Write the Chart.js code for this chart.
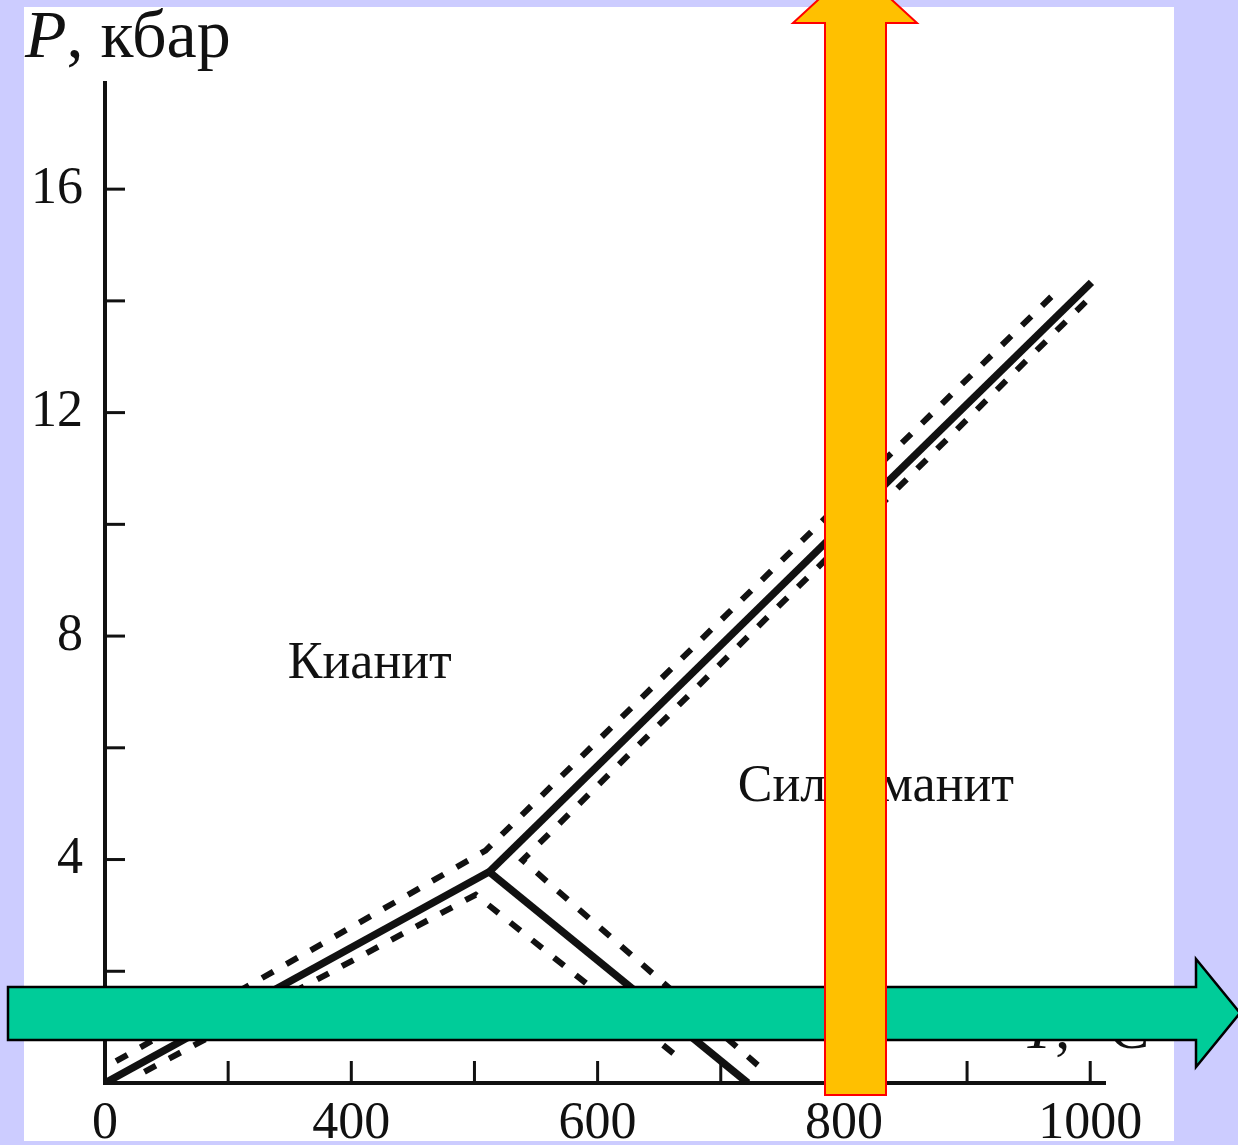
<!DOCTYPE html>
<html>
<head>
<meta charset="utf-8">
<script src="https://cdn.jsdelivr.net/npm/chart.js@4.4.1/dist/chart.umd.min.js"></script>
<style>
  body { margin: 0; background: #ccccff; overflow: hidden; }
  #paper { position: absolute; left: 24px; top: 7px; width: 1150px; height: 1134px; background: #fff; }
  #wrap { position: absolute; left: 0; top: 0; width: 1238px; height: 1145px; }
  #arrows { position: absolute; left: 0; top: 0; pointer-events: none; }
</style>
</head>
<body>
<div id="paper"></div>
<div id="wrap"><canvas id="diagram"></canvas></div>
<svg id="arrows" width="1238" height="1145">
  <polygon points="8,987 1196,987 1196,959 1240,1013 1196,1067 1196,1040 8,1040"
           fill="#00cc99" stroke="#000" stroke-width="2.5"/>
  <polygon points="825,1095 825,23 793,23 855,-34 917,23 886,23 886,1095"
           fill="#ffc000" stroke="#ff0000" stroke-width="2"/>
</svg>
<script>
// phase boundaries (T in °C, P in kbar)
var kyAndT = [200, 512];
var kyAndP = [0, 3.78];
var kySilT = [512, 1001];
var kySilP = [3.78, 14.33];
var andSilT = [512, 722];
var andSilP = [3.78, 0];

// uncertainty bands (dashed)
var errUpperT = [209, 509, 977];
var errUpperP = [0.39, 4.16, 14.26];
var errLowerT = [232, 501, 670];
var errLowerP = [0.2, 3.37, 0.38];
var errRightT = [730, 539, 998];
var errRightP = [0.32, 3.99, 14.02];

// axis ticks
var xMarks = [300, 400, 500, 600, 700, 800, 900, 1000];
var yMarks = [2, 4, 6, 8, 10, 12, 14, 16];
var xLabelValues = [200, 400, 600, 800, 1000];
var xLabelTexts = ['0', '400', '600', '800', '1000'];
var yLabelValues = [4, 8, 12, 16];

// region names
var regionNames = ['Кианит', 'Силлиманит'];
var regionT = [415, 826];
var regionP = [7.5, 5.3];

function pts(t, p) {
    return t.map(function (v, i) { return { x: v, y: p[i] }; });
}

function solid(t, p) {
    return { data: pts(t, p), borderColor: '#111', borderWidth: 7.5, pointRadius: 0, showLine: true, fill: false };
}

function dashed(t, p) {
    return { data: pts(t, p), borderColor: '#111', borderWidth: 6, borderDash: [13, 15], pointRadius: 0, showLine: true, fill: false };
}

var serif = '"Liberation Serif", "Times New Roman", serif';

var extras = {
    id: 'extras',
    afterDraw: function (chart) {
        var ctx = chart.ctx, x = chart.scales.x, y = chart.scales.y, area = chart.chartArea;
        ctx.save();
        // inward tick marks
        ctx.strokeStyle = '#111';
        ctx.lineWidth = 3;
        xMarks.forEach(function (v) {
            var px = x.getPixelForValue(v);
            ctx.beginPath();
            ctx.moveTo(px, area.bottom);
            ctx.lineTo(px, area.bottom - 22);
            ctx.stroke();
        });
        yMarks.forEach(function (v) {
            var py = y.getPixelForValue(v);
            ctx.beginPath();
            ctx.moveTo(area.left, py);
            ctx.lineTo(area.left + 20, py);
            ctx.stroke();
        });

        // region names
        ctx.fillStyle = '#111';
        ctx.font = '52px ' + serif;
        ctx.textAlign = 'center';
        ctx.textBaseline = 'middle';
        regionNames.forEach(function (n, i) {
            ctx.fillText(n, x.getPixelForValue(regionT[i]), y.getPixelForValue(regionP[i]));
        });

        // axis titles
        ctx.textAlign = 'left';
        ctx.textBaseline = 'alphabetic';
        var tx = area.left - 80, ty = area.top - 26;
        ctx.font = 'italic 68px ' + serif;
        ctx.fillText('P', tx, ty);
        tx += ctx.measureText('P').width;
        ctx.font = '68px ' + serif;
        ctx.fillText(', кбар', tx, ty);

        tx = area.right - 83; ty = area.bottom - 35;
        ctx.font = 'italic 60px ' + serif;
        ctx.fillText('T', tx, ty);
        tx += ctx.measureText('T').width;
        ctx.font = '60px ' + serif;
        ctx.fillText(', °C', tx, ty);
        ctx.restore();
    }
};

var ctx = document.getElementById('diagram').getContext('2d');
var chart = new Chart(ctx, {
    type: 'scatter',
    data: {
        datasets: [
            solid(kyAndT, kyAndP),
            solid(kySilT, kySilP),
            solid(andSilT, andSilP),
            dashed(errUpperT, errUpperP),
            dashed(errLowerT, errLowerP),
            dashed(errRightT, errRightP)
        ]
    },
    options: {
        responsive: true,
        maintainAspectRatio: false,
        animation: false,
        layout: { padding: { left: 0, top: 83, right: 133, bottom: 0 } },
        plugins: {
            legend: { display: false },
            tooltip: { enabled: false }
        },
        scales: {
            x: {
                type: 'linear',
                min: 200,
                max: 1012,
                grid: { display: false, drawTicks: false },
                border: { display: true, color: '#111', width: 4 },
                afterBuildTicks: function (s) {
                    s.ticks = xLabelValues.map(function (v) { return { value: v }; });
                },
                afterFit: function (s) { s.height = 62; },
                ticks: {
                    padding: 10,
                    maxRotation: 0,
                    autoSkip: false,
                    color: '#111',
                    font: { family: serif, size: 52 },
                    callback: function (v) {
                        var i = xLabelValues.indexOf(v);
                        return i >= 0 ? xLabelTexts[i] : '';
                    }
                }
            },
            y: {
                type: 'linear',
                min: 0,
                max: 17.9,
                grid: { display: false, drawTicks: false },
                border: { display: true, color: '#111', width: 4 },
                afterBuildTicks: function (s) {
                    s.ticks = yLabelValues.map(function (v) { return { value: v }; });
                },
                afterFit: function (s) { s.width = 105; },
                ticks: {
                    padding: 22,
                    autoSkip: false,
                    color: '#111',
                    font: { family: serif, size: 52 }
                }
            }
        }
    },
    plugins: [extras]
});
</script>
</body>
</html>
